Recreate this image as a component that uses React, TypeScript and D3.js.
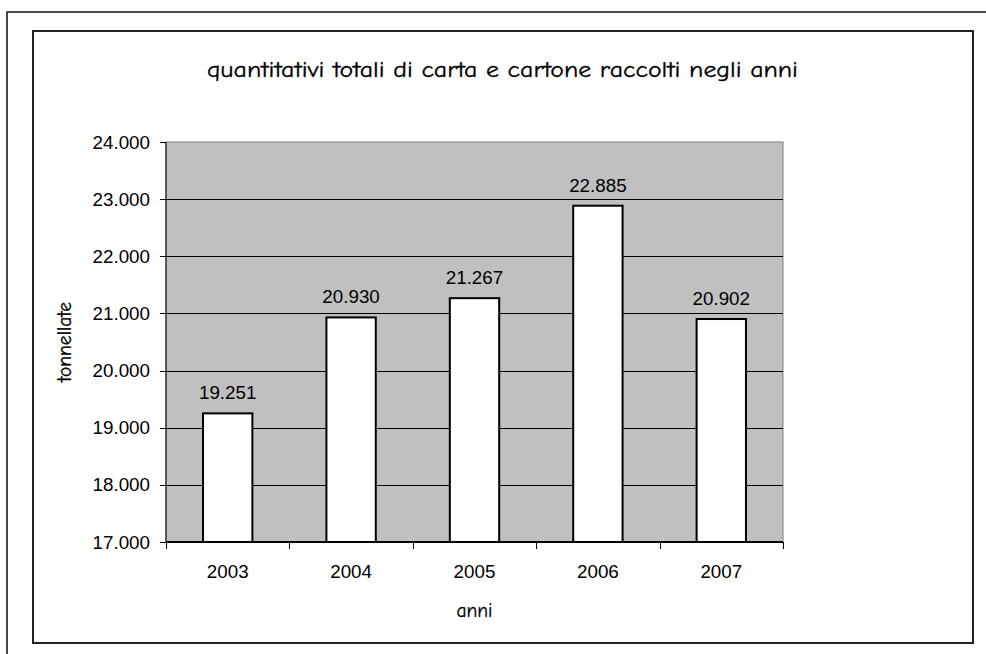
import React from "react";
import * as d3 from "d3";

const years = ["2003", "2004", "2005", "2006", "2007"];
const tonnes = [19251, 20930, 21267, 22885, 20902];
const yTicks = [17000, 18000, 19000, 20000, 21000, 22000, 23000, 24000];

const title = "quantitativi totali di carta e cartone raccolti negli anni";
const yTitle = "tonnellate";
const xTitle = "anni";

const W = 986;
const H = 654;
const plot = { left: 166, right: 783, top: 142, bottom: 542 };

const fmt = (v: number) => d3.format(",")(v).replace(/,/g, ".");

export default function App() {
  const x = d3
    .scaleBand<string>()
    .domain(years)
    .range([plot.left, plot.right])
    .paddingInner(0.6)
    .paddingOuter(0.3);
  const band = d3.scaleBand<string>().domain(years).range([plot.left, plot.right]);
  const y = d3.scaleLinear().domain([17000, 24000]).range([plot.bottom, plot.top]);

  const arial = "'Liberation Sans', Arial, sans-serif";
  const comic = "'Comic Sans MS', 'Comic Neue', 'Open Sans', sans-serif";
  const numSize = 18.8;

  return (
    <svg
      width={W}
      height={H}
      style={{ position: "absolute", left: 0, top: 0, background: "#fff" }}
    >
      {/* page frames */}
      <rect x={7} y={12} width={1000} height={1000} fill="none" stroke="#111" strokeWidth={1.5} />
      <rect x={33} y={31} width={940} height={612} fill="#fff" stroke="#222" strokeWidth={2} />

      <text
        x={(plot.left + plot.right) / 2 + 28}
        y={77}
        textAnchor="middle"
        fontFamily={comic}
        fontSize={23}
        textLength={591}
        lengthAdjust="spacingAndGlyphs"
        fill="#000"
        stroke="#000"
        strokeWidth={0.35}
      >
        {title}
      </text>

      {/* plot area */}
      <rect
        x={plot.left}
        y={plot.top}
        width={plot.right - plot.left}
        height={plot.bottom - plot.top}
        fill="#c0c0c0"
        stroke="#808080"
        strokeWidth={1}
      />
      {yTicks.slice(1, -1).map((t) => (
        <line
          key={t}
          x1={plot.left}
          x2={plot.right}
          y1={Math.round(y(t)) + 0.5}
          y2={Math.round(y(t)) + 0.5}
          stroke="#000"
          strokeWidth={1}
        />
      ))}

      {/* bars */}
      {years.map((yr, i) => (
        <g key={yr}>
          <rect
            x={x(yr)!}
            y={y(tonnes[i])}
            width={x.bandwidth()}
            height={plot.bottom - y(tonnes[i])}
            fill="#fff"
            stroke="#000"
            strokeWidth={2}
          />
          <text
            x={x(yr)! + x.bandwidth() / 2}
            y={y(tonnes[i]) - 14}
            textAnchor="middle"
            fontFamily={arial}
            fontSize={numSize}
            fill="#000"
          >
            {fmt(tonnes[i])}
          </text>
        </g>
      ))}

      {/* y axis */}
      <line x1={plot.left} x2={plot.left} y1={plot.top} y2={plot.bottom} stroke="#000" strokeWidth={1} />
      {yTicks.map((t) => (
        <g key={t}>
          <line
            x1={plot.left - 6}
            x2={plot.left}
            y1={Math.round(y(t)) + 0.5}
            y2={Math.round(y(t)) + 0.5}
            stroke="#000"
          />
          <text
            x={150}
            y={y(t) + 6.5}
            textAnchor="end"
            fontFamily={arial}
            fontSize={numSize}
            fill="#000"
          >
            {fmt(t)}
          </text>
        </g>
      ))}

      {/* x axis */}
      <line x1={plot.left} x2={plot.right} y1={plot.bottom} y2={plot.bottom} stroke="#000" strokeWidth={2} />
      {[...years.map((yr) => band(yr)!), plot.right].map((bx, i) => (
        <line
          key={i}
          x1={Math.round(bx) + 0.5}
          x2={Math.round(bx) + 0.5}
          y1={plot.bottom}
          y2={plot.bottom + 7}
          stroke="#000"
        />
      ))}
      {years.map((yr) => (
        <text
          key={yr}
          x={band(yr)! + band.bandwidth() / 2}
          y={578}
          textAnchor="middle"
          fontFamily={arial}
          fontSize={numSize}
          fill="#000"
        >
          {yr}
        </text>
      ))}

      <text
        x={(plot.left + plot.right) / 2}
        y={617}
        textAnchor="middle"
        fontFamily={comic}
        fontSize={19.5}
        fill="#000"
        stroke="#000"
        strokeWidth={0.3}
      >
        {xTitle}
      </text>
      <text
        transform={`translate(71, ${(plot.top + plot.bottom) / 2}) rotate(-90)`}
        textAnchor="middle"
        fontFamily={comic}
        fontSize={19.5}
        fill="#000"
        stroke="#000"
        strokeWidth={0.3}
      >
        {yTitle}
      </text>
    </svg>
  );
}
